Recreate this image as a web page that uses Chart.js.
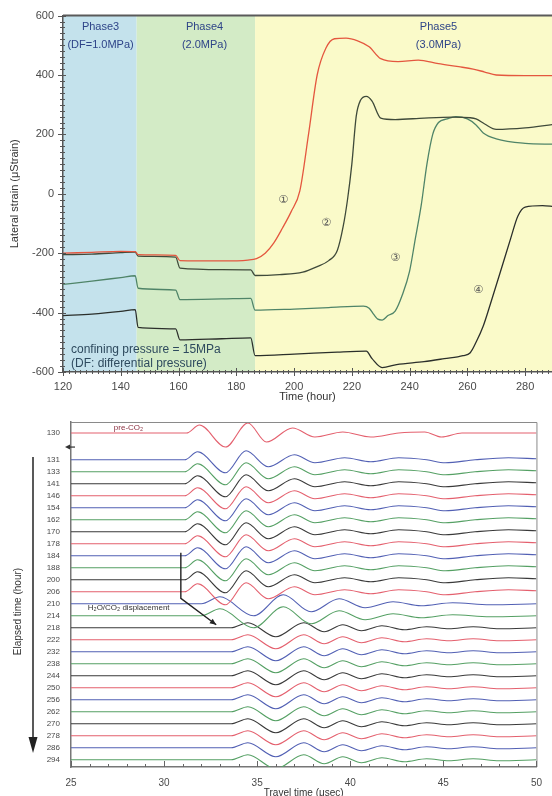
<!DOCTYPE html>
<html>
<head>
<meta charset="utf-8">
<script src="https://cdn.jsdelivr.net/npm/chart.js@4.4.1/dist/chart.umd.min.js"></script>
<style>
  html, body { margin: 0; padding: 0; background: #fff; overflow: hidden; }
  #wrap { position: relative; width: 552px; height: 796px; }
  #strainChart { position: absolute; left: 0; top: 0; }
  #waveChart { position: absolute; left: 0; top: 400px; }
</style>
</head>
<body>
<div id="wrap">
  <canvas id="strainChart" width="552" height="404"></canvas>
  <canvas id="waveChart" width="552" height="400"></canvas>
</div>
<script>
// ---------------- TOP PANEL: lateral strain vs time ----------------
const phaseNames = ["Phase3", "Phase4", "Phase5"];
const phaseNotes = ["(DF=1.0MPa)", "(2.0MPa)", "(3.0MPa)"];
const phaseFrom = [120, 145.5, 186.5];
const phaseTo = [145.5, 186.5, 290];
const phaseLabelAt = [133, 169, 250];

const timeTicks = [120, 140, 160, 180, 200, 220, 240, 260, 280];
const strainTicks = [-600, -400, -200, 0, 200, 400, 600];

// gauge 1 (red)
const g1Hours = [120, 130, 140, 145, 146, 159, 160.5, 175, 184, 187, 190, 193, 196, 199, 202, 205, 208, 211, 214, 218, 222, 226, 230, 236, 243, 250, 257, 262, 266, 270, 280, 290];
const g1Strain = [-200, -197, -194, -195, -205, -207, -225, -226, -223, -218, -200, -165, -115, -60, 10, 200, 400, 490, 522, 524, 515, 495, 455, 445, 450, 438, 428, 420, 410, 400, 398, 398];
// gauge 2
const g2Hours = [120, 130, 140, 145, 146, 159, 160.5, 175, 185, 186.5, 195, 203, 208, 212, 215, 217, 218.5, 220, 221.5, 223, 225, 227, 230, 235, 245, 255, 261, 263, 266, 270, 280, 290];
const g2Strain = [-205, -203, -198, -196, -210, -213, -250, -255, -256, -275, -272, -264, -245, -225, -190, -110, -20, 100, 260, 315, 328, 312, 255, 250, 255, 258, 256, 252, 235, 217, 222, 234];
// gauge 3
const g3Hours = [120, 130, 140, 145, 146, 159, 160.5, 175, 185, 186.5, 200, 212, 224, 226, 227.5, 229, 230.5, 232.5, 235, 237.5, 240, 242, 244, 246, 248, 250, 253, 256, 260, 263, 265.5, 270, 280, 290];
const g3Strain = [-305, -294, -282, -276, -318, -324, -356, -354, -352, -392, -388, -383, -378, -385, -405, -422, -425, -410, -395, -340, -260, -150, -40, 100, 200, 240, 252, 260, 252, 232, 205, 185, 170, 167];
// gauge 4
const g4Hours = [120, 130, 140, 145, 146, 159, 160.5, 175, 185, 186.5, 200, 215, 225, 227, 230.5, 235.5, 245, 252, 258.5, 261, 263, 265.5, 268, 272, 275, 277.5, 280, 286, 290];
const g4Strain = [-410, -405, -396, -390, -450, -455, -492, -488, -485, -545, -540, -533, -530, -555, -585, -575, -565, -555, -545, -535, -500, -445, -370, -245, -150, -75, -45, -40, -43];

const gaugeMarks = ["①", "②", "③", "④"];
const markHour = [196.2, 211.1, 235, 263.7];
const markStrain = [-22, -99, -216, -326];

// ---------------- BOTTOM PANEL: waveforms ----------------
const preLabel = "130";
const traceHours = [131, 133, 141, 146, 154, 162, 170, 178, 184, 188, 200, 206, 210, 214, 218, 222, 232, 238, 244, 250, 256, 262, 270, 278, 286, 294];
const traceShape = ["early", "early", "early", "early", "early", "early", "early", "early", "early", "early", "early", "early",
                    "mid", "mid", "late", "late", "late", "late", "late", "late", "late", "late", "late", "late", "late", "late"];

// travel time (usec) and relative amplitude of each waveform shape
const preTime = [25, 31.2, 31.9, 33.3, 34.5, 35.5, 36.9, 38.1, 39.6, 41.1, 42.6, 44.0, 44.9, 46.0, 50];
const preAmp = [0, 0, 8, -14, 10, -9, 5, -4, 1, -4, 0, 1, -4, 0, 0];
const earlyTime = [25, 31.1, 31.8, 33.3, 34.4, 35.6, 37.0, 38.1, 39.7, 41.1, 42.6, 44.1, 45.1, 46.7, 48.5, 50];
const earlyAmp = [0, 0, 8, -13, 9, -7, 5, -3, 2, -2, 2, 0, -3, 0, 2, 1];
const midTime = [25, 32.0, 33.0, 34.8, 36.4, 37.9, 39.4, 40.8, 42.3, 43.8, 45.5, 47.5, 50];
const midAmp = [0, 0, 7, -12, 9, -8, 5, -4, 2, -2, 1, -1, 0];
const lateTime = [25, 33.6, 34.5, 36.0, 37.5, 38.6, 39.6, 40.6, 41.7, 42.9, 44.1, 45.3, 46.6, 48.0, 50];
const lateAmp = [0, 0, 5, -9, 5, -4, 3, -3, 2, -2, 1, -1, 1, -1, 0];

const travelTicks = [25, 30, 35, 40, 45, 50];

// ---------------- styles ----------------
const FONT = "'Liberation Sans', Arial, sans-serif";
Chart.defaults.font.family = FONT;
const gaugeColors = ["#e4573f", "#3f4a3a", "#4f8468", "#2b2f2b"];
const phaseFill = ["#c4e2ec", "#d3ebc6", "#fafac9"];
const tracePalette = ["#5260b4", "#55a064", "#3a3a3a", "#e4606e"];
const shapes = {
  early: [earlyTime, earlyAmp],
  mid: [midTime, midAmp],
  late: [lateTime, lateAmp]
};
const ampGain = 1 / 12;

function pts(xs, ys) {
  return xs.map((v, i) => ({ x: v, y: ys[i] }));
}

// ---------------- top decorations ----------------
const strainDecor = {
  id: "strainDecor",
  beforeDraw(chart) {
    const { ctx, chartArea: a, scales: { x } } = chart;
    ctx.save();
    phaseFrom.forEach((s, i) => {
      const x0 = x.getPixelForValue(s);
      const x1 = Math.min(x.getPixelForValue(phaseTo[i]), a.right);
      ctx.fillStyle = phaseFill[i];
      ctx.fillRect(x0, a.top, x1 - x0, a.bottom - a.top);
    });
    ctx.restore();
  },
  afterDraw(chart) {
    const { ctx, chartArea: a, scales: { x, y } } = chart;
    ctx.save();
    // top frame line
    ctx.strokeStyle = "#5a5a5a";
    ctx.lineWidth = 2;
    ctx.beginPath();
    ctx.moveTo(a.left, a.top);
    ctx.lineTo(a.right, a.top);
    ctx.stroke();

    // ticks
    ctx.strokeStyle = "#555";
    ctx.lineWidth = 1;
    for (let h = 120; h <= 288; h += 2) {
      const px = Math.round(x.getPixelForValue(h)) + 0.5;
      const major = h % 20 === 0;
      ctx.beginPath();
      ctx.moveTo(px, a.bottom - (major ? 4 : 2));
      ctx.lineTo(px, a.bottom + (major ? 4 : 2));
      ctx.stroke();
    }
    for (let s = -600; s <= 600; s += 20) {
      const py = Math.round(y.getPixelForValue(s)) + 0.5;
      const major = s % 200 === 0;
      ctx.beginPath();
      ctx.moveTo(a.left - (major ? 5 : 3), py);
      ctx.lineTo(a.left + (major ? 3 : 2), py);
      ctx.stroke();
    }

    // phase labels
    ctx.fillStyle = "#2e4488";
    ctx.font = "11px " + FONT;
    ctx.textAlign = "center";
    ctx.textBaseline = "middle";
    phaseNames.forEach((n, i) => {
      const px = x.getPixelForValue(phaseLabelAt[i]);
      ctx.fillText(n, px, a.top + 11);
      ctx.fillText(phaseNotes[i], px, a.top + 29);
    });

    // confining pressure note
    ctx.fillStyle = "#2e4a5e";
    ctx.font = "12px " + FONT;
    ctx.textAlign = "left";
    ctx.fillText("confining pressure = 15MPa", a.left + 8, a.bottom - 22);
    ctx.fillText("(DF: differential pressure)", a.left + 8, a.bottom - 8);

    // gauge numbers
    ctx.fillStyle = "#555";
    ctx.font = "11px 'DejaVu Sans', sans-serif";
    ctx.textAlign = "center";
    gaugeMarks.forEach((m, i) => {
      ctx.fillText(m, x.getPixelForValue(markHour[i]), y.getPixelForValue(markStrain[i]));
    });
    ctx.restore();
  }
};

new Chart(document.getElementById("strainChart").getContext("2d"), {
  type: "line",
  data: {
    datasets: [
      { data: pts(g1Hours, g1Strain), borderColor: gaugeColors[0] },
      { data: pts(g2Hours, g2Strain), borderColor: gaugeColors[1] },
      { data: pts(g3Hours, g3Strain), borderColor: gaugeColors[2] },
      { data: pts(g4Hours, g4Strain), borderColor: gaugeColors[3] }
    ]
  },
  options: {
    responsive: false,
    animation: false,
    devicePixelRatio: 1,
    layout: { padding: { top: 13, right: 0, left: 0, bottom: 0 } },
    plugins: { legend: { display: false }, tooltip: { enabled: false } },
    elements: {
      point: { radius: 0 },
      line: { borderWidth: 1.3, cubicInterpolationMode: "monotone", fill: false }
    },
    scales: {
      x: {
        type: "linear",
        min: 120,
        max: 289.3,
        afterBuildTicks: ax => { ax.ticks = timeTicks.map(v => ({ value: v })); },
        afterFit: ax => { ax.height = 32; },
        grid: { display: false, drawTicks: false },
        border: { color: "#555", width: 1.5 },
        ticks: { color: "#4a4a4a", font: { size: 11 }, padding: 8, maxRotation: 0, autoSkip: false },
        title: { display: true, text: "Time (hour)", color: "#333", font: { size: 11 }, padding: 0 }
      },
      y: {
        min: -600,
        max: 600,
        afterBuildTicks: ax => { ax.ticks = strainTicks.map(v => ({ value: v })); },
        afterFit: ax => { ax.width = 63; },
        grid: { display: false, drawTicks: false },
        border: { color: "#555", width: 1.5 },
        ticks: { color: "#4a4a4a", font: { size: 11 }, padding: 9, autoSkip: false },
        title: { display: true, text: "Lateral strain (μStrain)", color: "#333", font: { size: 11 }, padding: { top: 8 } }
      }
    }
  },
  plugins: [strainDecor]
});

// ---------------- bottom decorations ----------------
const waveDecor = {
  id: "waveDecor",
  afterDraw(chart) {
    const { ctx, chartArea: a, scales: { x, y } } = chart;
    ctx.save();
    // top & right frame
    ctx.strokeStyle = "#8a8a8a";
    ctx.lineWidth = 1;
    ctx.beginPath();
    ctx.moveTo(a.left, a.top + 0.5);
    ctx.lineTo(a.right + 0.5, a.top + 0.5);
    ctx.lineTo(a.right + 0.5, a.bottom);
    ctx.stroke();

    // inward ticks on travel-time axis
    ctx.strokeStyle = "#666";
    for (let t = 25; t <= 50; t++) {
      const px = Math.round(x.getPixelForValue(t)) + 0.5;
      ctx.beginPath();
      ctx.moveTo(px, a.bottom);
      ctx.lineTo(px, a.bottom - (t % 5 === 0 ? 6 : 3));
      ctx.stroke();
    }

    // CO2 injection marker
    const my = y.getPixelForValue(2.08);
    ctx.fillStyle = "#333";
    ctx.beginPath();
    ctx.moveTo(a.left - 6, my);
    ctx.lineTo(a.left - 1, my - 2.5);
    ctx.lineTo(a.left - 1, my + 2.5);
    ctx.closePath();
    ctx.fill();
    ctx.fillRect(a.left - 2, my - 0.5, 6, 1.2);

    // elapsed time arrow
    const ax = 33;
    ctx.strokeStyle = "#222";
    ctx.lineWidth = 1.5;
    ctx.beginPath();
    ctx.moveTo(ax, a.top + 35);
    ctx.lineTo(ax, a.bottom - 24);
    ctx.stroke();
    ctx.fillStyle = "#222";
    ctx.beginPath();
    ctx.moveTo(ax - 4.5, a.bottom - 30);
    ctx.lineTo(ax + 4.5, a.bottom - 30);
    ctx.lineTo(ax, a.bottom - 14);
    ctx.closePath();
    ctx.fill();

    // y title
    ctx.save();
    ctx.translate(18, (a.top + a.bottom) / 2 + 17);
    ctx.rotate(-Math.PI / 2);
    ctx.fillStyle = "#333";
    ctx.font = "10px " + FONT;
    ctx.textAlign = "center";
    ctx.textBaseline = "middle";
    ctx.fillText("Elapsed time (hour)", 0, 0);
    ctx.restore();

    // displacement bracket + arrow
    const bx = x.getPixelForValue(30.9);
    const by0 = y.getPixelForValue(10.9);
    const by1 = y.getPixelForValue(14.7);
    const ex = x.getPixelForValue(32.8);
    const ey = y.getPixelForValue(16.9);
    ctx.strokeStyle = "#222";
    ctx.lineWidth = 1.4;
    ctx.beginPath();
    ctx.moveTo(bx, by0);
    ctx.lineTo(bx, by1);
    ctx.lineTo(ex, ey);
    ctx.stroke();
    const ang = Math.atan2(ey - by1, ex - bx);
    ctx.beginPath();
    ctx.moveTo(ex, ey);
    ctx.lineTo(ex - 7 * Math.cos(ang - 0.4), ey - 7 * Math.sin(ang - 0.4));
    ctx.lineTo(ex - 7 * Math.cos(ang + 0.4), ey - 7 * Math.sin(ang + 0.4));
    ctx.closePath();
    ctx.fill();

    // labels
    ctx.fillStyle = "#333";
    ctx.font = "8px " + FONT;
    ctx.textAlign = "left";
    ctx.textBaseline = "middle";
    ctx.fillText("H₂O/CO₂ displacement", x.getPixelForValue(25.9), y.getPixelForValue(15.5));
    ctx.fillStyle = "#8a3040";
    ctx.fillText("pre-CO₂", x.getPixelForValue(27.3), y.getPixelForValue(0.5));
    ctx.restore();
  }
};

const rowOf = i => 3.15 + i;
const preRow = 0.92;
const rowTicks = [preRow].concat(traceHours.map((h, i) => rowOf(i)));
const rowLabels = [preLabel].concat(traceHours.map(String));

const waveSets = [{
  data: preTime.map((t, k) => ({ x: t, y: preRow - preAmp[k] * ampGain })),
  borderColor: tracePalette[3]
}];
traceHours.forEach((h, i) => {
  const [ts, as] = shapes[traceShape[i]];
  waveSets.push({
    data: ts.map((t, k) => ({ x: t, y: rowOf(i) - as[k] * ampGain })),
    borderColor: tracePalette[i % 4]
  });
});

new Chart(document.getElementById("waveChart").getContext("2d"), {
  type: "line",
  data: { datasets: waveSets },
  options: {
    responsive: false,
    animation: false,
    devicePixelRatio: 1,
    layout: { padding: { top: 22, right: 5, left: 0, bottom: 0 } },
    plugins: { legend: { display: false }, tooltip: { enabled: false } },
    elements: {
      point: { radius: 0 },
      line: { borderWidth: 1.1, cubicInterpolationMode: "monotone", fill: false }
    },
    scales: {
      x: {
        type: "linear",
        min: 25,
        max: 50,
        afterBuildTicks: ax => { ax.ticks = travelTicks.map(v => ({ value: v })); },
        afterFit: ax => { ax.height = 33; },
        grid: { display: false, drawTicks: false },
        border: { color: "#777", width: 1.5 },
        ticks: { color: "#4a4a4a", font: { size: 10 }, padding: 10, maxRotation: 0, autoSkip: false },
        title: { display: true, text: "Travel time (μsec)", color: "#333", font: { size: 10 }, padding: { bottom: 1 } }
      },
      y: {
        type: "linear",
        min: 0,
        max: 28.75,
        reverse: true,
        afterBuildTicks: ax => { ax.ticks = rowTicks.map(v => ({ value: v })); },
        afterFit: ax => { ax.width = 71; },
        grid: { display: false, drawTicks: false },
        border: { color: "#777", width: 1.5 },
        ticks: {
          color: "#4a4a4a",
          font: { size: 8 },
          padding: 11,
          autoSkip: false,
          callback: (v, i) => rowLabels[i]
        }
      }
    }
  },
  plugins: [waveDecor]
});
</script>
</body>
</html>
